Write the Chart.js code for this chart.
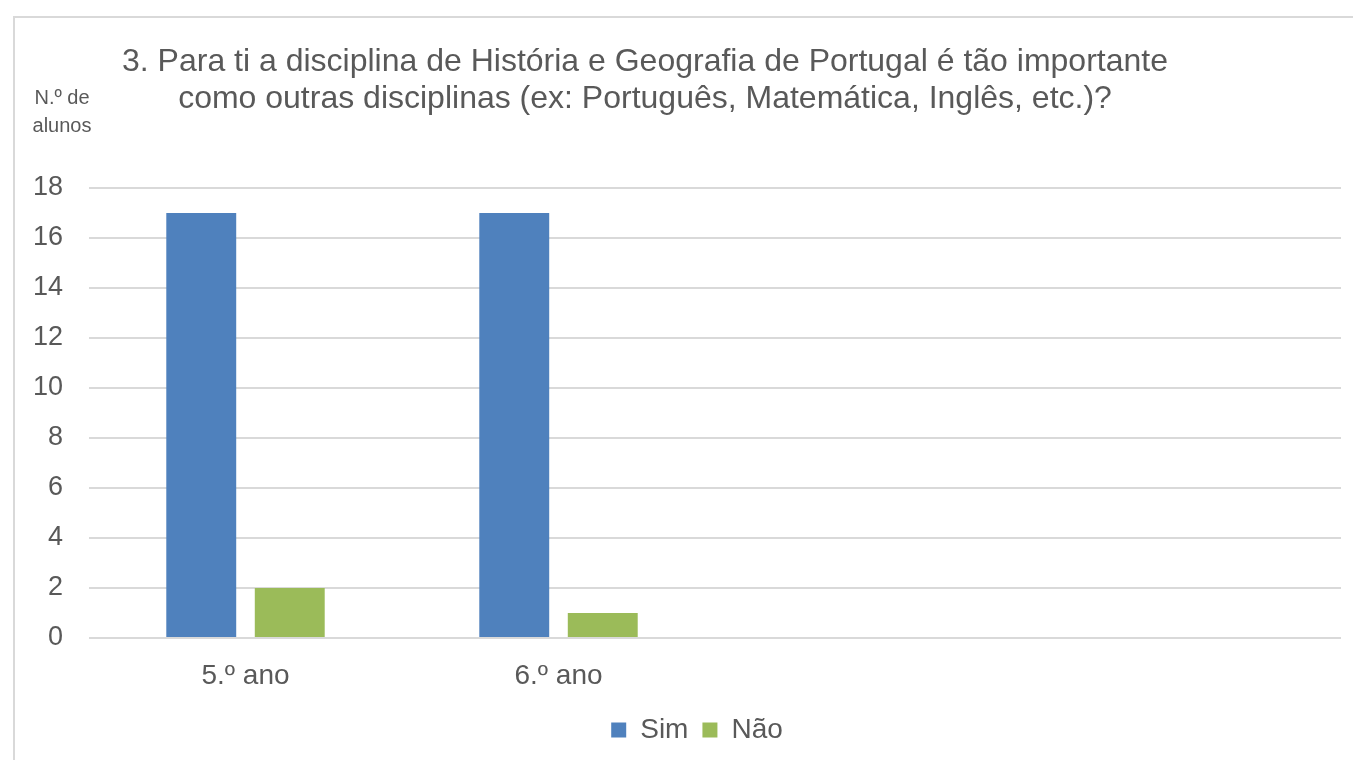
<!DOCTYPE html>
<html>
<head>
<meta charset="utf-8">
<script src="https://cdn.jsdelivr.net/npm/chart.js@4.4.1/dist/chart.umd.min.js"></script>
<style>
    html, body { margin: 0; padding: 0; background: #fff; overflow: hidden; }
    #frame {
        position: absolute; left: 13px; top: 16px;
        width: 1400px; height: 800px;
        border-left: 2px solid #d9d9d9; border-top: 2px solid #d9d9d9;
    }
    #chart { position: absolute; left: 0; top: 0; }
</style>
</head>
<body>
<div id="frame"></div>
<canvas id="chart" width="1353" height="760"></canvas>
<script>
const categories = ["5.º ano", "6.º ano", "", ""];
const simValues = [17, 17, null, null];
const naoValues = [2, 1, null, null];
const titleLines = [
    "3. Para ti a disciplina de História e Geografia de Portugal é tão importante",
    "como outras disciplinas (ex: Português, Matemática, Inglês, etc.)?"
];
const axisTitleLines = ["N.º de", "alunos"];

const textColor = "#595959";
Chart.defaults.font.family = "'Liberation Sans', Arial, sans-serif";
Chart.defaults.color = textColor;

// title and y axis caption drawn as text, legend nudged to sit like the original
const extras = {
    id: "extras",
    afterLayout(chart) {
        chart.legend.left -= 18;
        chart.legend.right -= 18;
    },
    afterDraw(chart) {
        const c = chart.ctx;
        c.save();
        c.fillStyle = textColor;
        c.textAlign = "center";
        c.textBaseline = "alphabetic";
        c.font = "32px 'Liberation Sans', Arial, sans-serif";
        c.fillText(titleLines[0], 645, 71);
        c.fillText(titleLines[1], 645, 108);
        c.font = "20px 'Liberation Sans', Arial, sans-serif";
        c.fillText(axisTitleLines[0], 62, 104);
        c.fillText(axisTitleLines[1], 62, 132);
        c.restore();
    }
};

new Chart(document.getElementById("chart"), {
    type: "bar",
    data: {
        labels: categories,
        datasets: [
            { label: "Sim", data: simValues, backgroundColor: "#4f81bd" },
            { label: "Não", data: naoValues, backgroundColor: "#9bbb59" }
        ]
    },
    options: {
        responsive: false,
        animation: false,
        datasets: { bar: { categoryPercentage: 0.5655, barPercentage: 0.79 } },
        layout: { padding: { left: 0, right: 12, top: 188, bottom: 6 } },
        plugins: {
            title: { display: false },
            tooltip: { enabled: false },
            legend: {
                position: "bottom",
                fullSize: false,
                labels: {
                    boxWidth: 15,
                    boxHeight: 15,
                    padding: 14,
                    font: { size: 28 },
                    color: textColor
                }
            }
        },
        scales: {
            x: {
                grid: { display: false },
                border: { display: false },
                ticks: { font: { size: 28 }, padding: 13, color: textColor },
                afterFit(scale) { scale.height = 64; }
            },
            y: {
                min: 0,
                max: 18,
                ticks: { stepSize: 2, font: { size: 27 }, padding: 26, color: textColor },
                grid: { color: "#d9d9d9", lineWidth: 2, drawTicks: false },
                border: { display: false },
                afterFit(scale) { scale.width = 89; }
            }
        }
    },
    plugins: [extras]
});
</script>
</body>
</html>
